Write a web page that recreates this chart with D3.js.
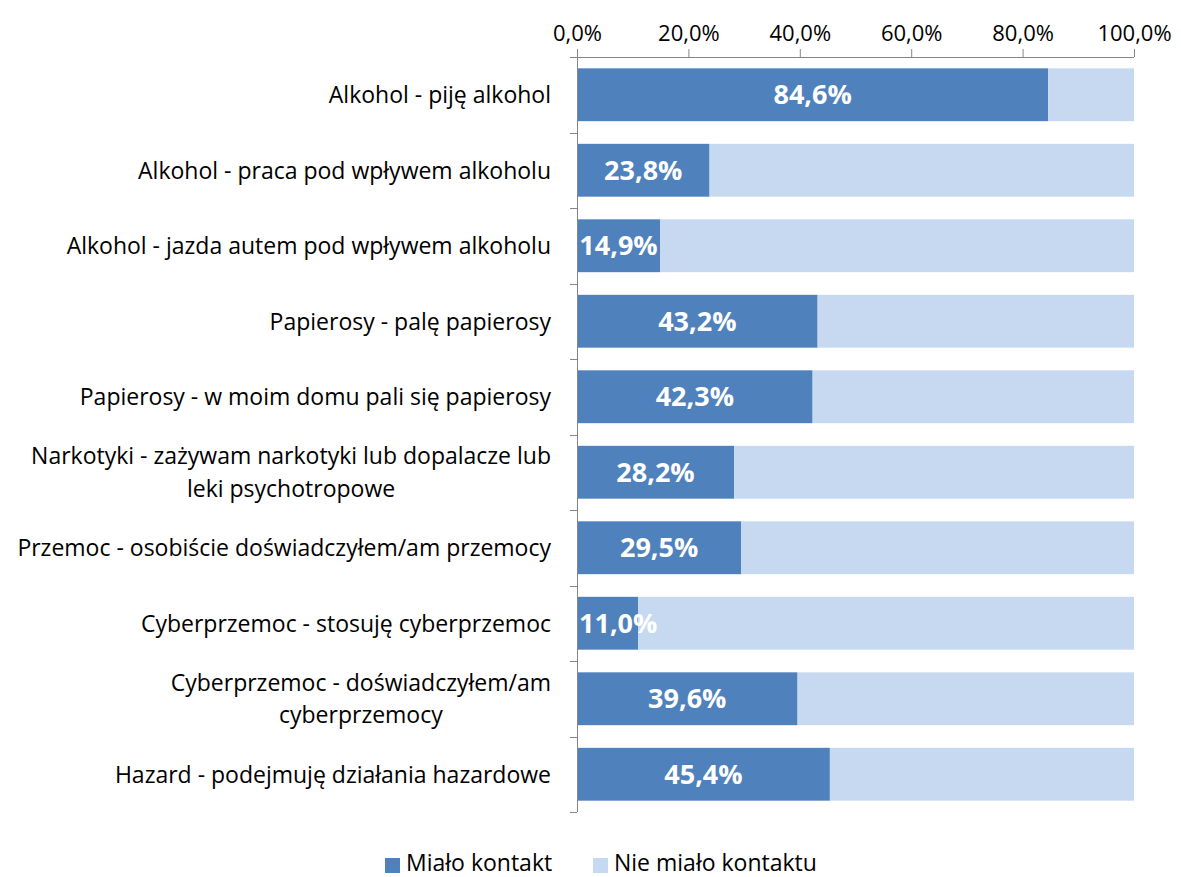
<!DOCTYPE html>
<html lang="pl">
<head>
    <meta charset="utf-8">
    <title>Kontakt z zachowaniami ryzykownymi</title>
    <script type="text/javascript" src="https://cdn.jsdelivr.net/npm/d3@7"></script>
    <style type="text/css">
        body { margin: 0; background: #fff; }
        text { font-family: "Open Sans", Lato, sans-serif; fill: #000; }
    </style>
</head>
<body>
    <script type="text/javascript">

        //Data
        var categories = [
            ["Alkohol - piję alkohol"],
            ["Alkohol - praca pod wpływem alkoholu"],
            ["Alkohol - jazda autem pod wpływem alkoholu"],
            ["Papierosy - palę papierosy"],
            ["Papierosy - w moim domu pali się papierosy"],
            ["Narkotyki - zażywam narkotyki lub dopalacze lub", "leki psychotropowe"],
            ["Przemoc - osobiście doświadczyłem/am przemocy"],
            ["Cyberprzemoc - stosuję cyberprzemoc"],
            ["Cyberprzemoc - doświadczyłem/am", "cyberprzemocy"],
            ["Hazard - podejmuję działania hazardowe"]
        ];
        var contact = [84.6, 23.8, 14.9, 43.2, 42.3, 28.2, 29.5, 11.0, 39.6, 45.4];
        var noContact = contact.map(function (v) { return 100 - v; });
        var seriesNames = ["Miało kontakt", "Nie miało kontaktu"];
        var ticks = [0, 20, 40, 60, 80, 100];

        var colors = ["#4F81BD", "#C6D9F1"];

        //Width and height
        var w = 1181;
        var h = 877;
        var plotLeft = 577, plotRight = 1134, plotTop = 57, plotBottom = 812;

        var svg = d3.select("body")
            .append("svg")
            .attr("width", w)
            .attr("height", h);

        var x = d3.scaleLinear().domain([0, 100]).range([plotLeft, plotRight]);
        var y = d3.scaleBand()
            .domain(d3.range(categories.length))
            .range([plotTop, plotBottom])
            .paddingInner(0.3)
            .paddingOuter(0.15);

        var fmt = function (v) { return v.toFixed(1).replace(".", ",") + "%"; };

        //Bars
        var rows = svg.selectAll("g.row")
            .data(d3.range(categories.length))
            .enter()
            .append("g")
            .attr("class", "row");

        rows.append("rect")
            .attr("x", x(0))
            .attr("y", function (i) { return y(i); })
            .attr("width", function (i) { return x(contact[i]) - x(0); })
            .attr("height", y.bandwidth())
            .style("fill", colors[0]);

        rows.append("rect")
            .attr("x", function (i) { return x(contact[i]); })
            .attr("y", function (i) { return y(i); })
            .attr("width", function (i) { return x(contact[i] + noContact[i]) - x(contact[i]); })
            .attr("height", y.bandwidth())
            .style("fill", colors[1]);

        //Top axis
        var xAxis = d3.axisTop(x)
            .tickValues(ticks)
            .tickSize(8)
            .tickPadding(8)
            .tickFormat(function (d) { return fmt(d); });

        var gx = svg.append("g")
            .attr("transform", "translate(0," + plotTop + ")")
            .call(xAxis);
        gx.select(".domain").attr("d", "M" + (plotLeft - 7) + ",0.5H" + plotRight);
        gx.selectAll("line").style("stroke", "#868686");
        gx.select(".domain").style("stroke", "#868686");
        gx.selectAll("text")
            .style("font-size", "22px")
            .style("font-family", "'Open Sans', sans-serif")
            .attr("fill", "#000");

        //Left axis line and tick marks at band edges
        var bounds = d3.range(categories.length + 1).map(function (i) {
            return plotTop + i * (plotBottom - plotTop) / categories.length;
        });
        svg.append("line")
            .attr("x1", plotLeft + 0.5).attr("x2", plotLeft + 0.5)
            .attr("y1", plotTop).attr("y2", plotBottom)
            .style("stroke", "#868686");
        svg.selectAll("line.ytick")
            .data(bounds)
            .enter()
            .append("line")
            .attr("class", "ytick")
            .attr("x1", plotLeft - 7).attr("x2", plotLeft)
            .attr("y1", function (d) { return Math.round(d) + 0.5; })
            .attr("y2", function (d) { return Math.round(d) + 0.5; })
            .style("stroke", "#868686");

        //Value labels (centred in the segment, pushed right if they would cross the axis)
        svg.selectAll("text.val")
            .data(d3.range(categories.length))
            .enter()
            .append("text")
            .attr("class", "val")
            .attr("y", function (i) { return y(i) + y.bandwidth() / 2; })
            .attr("dy", "0.36em")
            .attr("text-anchor", "middle")
            .style("font-size", "27px")
            .style("font-weight", "bold")
            .style("fill", "#fff")
            .text(function (i) { return fmt(contact[i]); })
            .attr("x", function (i) {
                var half = this.getComputedTextLength() / 2;
                return Math.max(x(contact[i] / 2), plotLeft + 2 + half);
            });

        //Category labels
        rows.each(function (i) {
            var lines = categories[i];
            var g = d3.select(this).append("text")
                .style("font-size", "23px")
                .attr("y", y(i) + y.bandwidth() / 2);
            var probe = g.append("tspan");
            // measure widest line to right-align the block, then center lines within it
            var widths = lines.map(function (t) {
                probe.text(t);
                return probe.node().getComputedTextLength();
            });
            probe.remove();
            var maxW = d3.max(widths);
            var cx = 551 - maxW / 2;
            lines.forEach(function (t, k) {
                g.append("tspan")
                    .attr("x", cx)
                    .attr("text-anchor", "middle")
                    .attr("dy", k === 0 ? (0.36 - (lines.length - 1) * 0.71) + "em" : "1.42em")
                    .text(t);
            });
        });

        //Legend
        var legend = svg.append("g").attr("transform", "translate(0,863)");
        var legendX = [385, 593];
        seriesNames.forEach(function (name, k) {
            legend.append("rect")
                .attr("x", legendX[k]).attr("y", -5)
                .attr("width", 15).attr("height", 15)
                .style("fill", colors[k]);
            legend.append("text")
                .attr("x", legendX[k] + 21).attr("y", 0)
                .attr("dy", "0.36em")
                .style("font-size", "23px")
                .text(name);
        });
    </script>
</body>
</html>
